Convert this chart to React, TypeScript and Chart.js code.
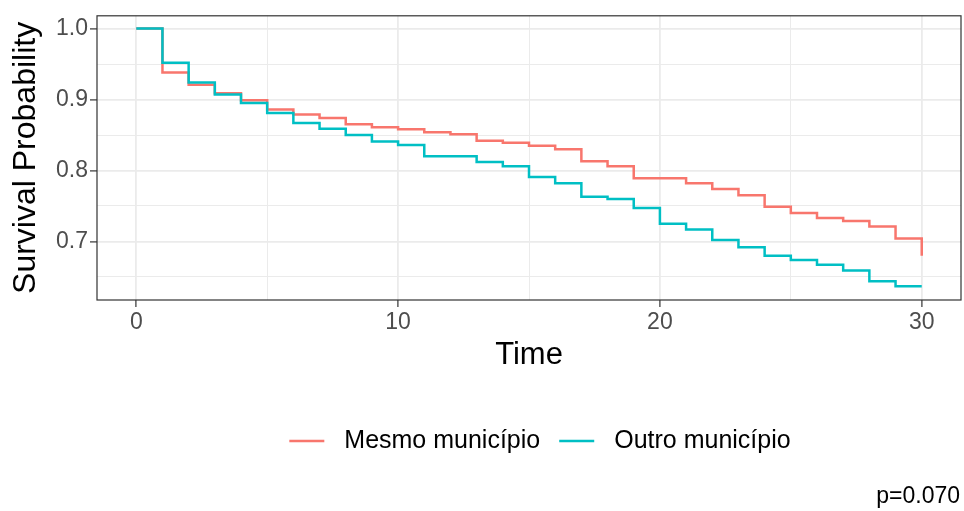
import React, { useEffect, useRef } from 'react';
import { Chart, registerables } from 'chart.js';

Chart.register(...registerables);

// ---- data ----
const times = [0, 1, 2, 3, 4, 5, 6, 7, 8, 9, 10, 11, 12, 13, 14, 15, 16, 17, 18, 19, 20, 21, 22, 23, 24, 25, 26, 27, 28, 29, 30];
const mesmoMunicipio = [1.0, 0.938, 0.921, 0.909, 0.899, 0.886, 0.879, 0.874, 0.865, 0.861, 0.858, 0.854, 0.851, 0.842, 0.839, 0.835, 0.83, 0.813, 0.806, 0.789, 0.789, 0.782, 0.774, 0.765, 0.749, 0.74, 0.733, 0.729, 0.721, 0.704, 0.68];
const outroMunicipio = [1.0, 0.952, 0.924, 0.907, 0.895, 0.881, 0.867, 0.859, 0.85, 0.841, 0.836, 0.82, 0.82, 0.812, 0.806, 0.791, 0.782, 0.763, 0.76, 0.747, 0.725, 0.717, 0.702, 0.692, 0.68, 0.674, 0.667, 0.659, 0.644, 0.637, 0.637];
const seriesNames = ['Mesmo município', 'Outro município'];
const seriesColors = ['#F8766D', '#00BFC4'];
const xTicks = [0, 5, 10, 15, 20, 25, 30];
const xLabels = [0, 10, 20, 30];
const yTicks = [0.65, 0.7, 0.75, 0.8, 0.85, 0.9, 0.95, 1.0];
const yLabels = [0.7, 0.8, 0.9, 1.0];
const xTitle = 'Time';
const yTitle = 'Survival Probability';
const pValueText = 'p=0.070';

const FONT = '"Liberation Sans", Arial, Helvetica, sans-serif';
const GRID = '#EBEBEB';
const DARK = '#333333';

const isIn = (arr: number[], v: number) => arr.some((a) => Math.abs(a - v) < 1e-9);

const ggPlugin = {
  id: 'ggDecor',
  afterDatasetsDraw(chart: any) {
    const { ctx, chartArea } = chart;
    ctx.save();
    ctx.strokeStyle = DARK;
    ctx.lineWidth = 1.2;
    ctx.strokeRect(chartArea.left, chartArea.top, chartArea.right - chartArea.left, chartArea.bottom - chartArea.top);
    ctx.restore();
  },
  afterDraw(chart: any) {
    const ctx = chart.ctx;
    ctx.save();
    ctx.font = `25px ${FONT}`;
    ctx.textBaseline = 'middle';
    const lineLen = 35;
    const gapText = 20;
    const gapItem = 19;
    const y = 441;
    const widths = chart.data.datasets.map((ds: any) => ctx.measureText(ds.label).width);
    let total = 0;
    widths.forEach((w: number, i: number) => {
      total += lineLen + gapText + w + (i < widths.length - 1 ? gapItem : 0);
    });
    let x = 540 - total / 2;
    chart.data.datasets.forEach((ds: any, i: number) => {
      ctx.strokeStyle = ds.borderColor;
      ctx.lineWidth = 2.4;
      ctx.beginPath();
      ctx.moveTo(x, y);
      ctx.lineTo(x + lineLen, y);
      ctx.stroke();
      x += lineLen + gapText;
      ctx.fillStyle = '#000';
      ctx.textAlign = 'left';
      ctx.fillText(ds.label, x, y);
      x += widths[i] + gapItem;
    });
    ctx.font = `23px ${FONT}`;
    ctx.textAlign = 'right';
    ctx.fillStyle = '#000';
    ctx.fillText(pValueText, 960, 497);
    ctx.restore();
  },
};

export default function App() {
  const canvasRef = useRef<HTMLCanvasElement | null>(null);

  useEffect(() => {
    document.body.style.margin = '0';
    const canvas = canvasRef.current;
    if (!canvas) return;
    const chart = new Chart(canvas, {
      type: 'line',
      data: {
        datasets: [
          {
            label: seriesNames[0],
            data: times.map((t, i) => ({ x: t, y: mesmoMunicipio[i] })),
            borderColor: seriesColors[0],
            backgroundColor: seriesColors[0],
            borderWidth: 2.5,
            stepped: 'before',
            pointRadius: 0,
            fill: false,
            order: 1,
          },
          {
            label: seriesNames[1],
            data: times.map((t, i) => ({ x: t, y: outroMunicipio[i] })),
            borderColor: seriesColors[1],
            backgroundColor: seriesColors[1],
            borderWidth: 2.5,
            stepped: 'before',
            pointRadius: 0,
            fill: false,
            order: 0,
          },
        ],
      },
      options: {
        animation: false,
        responsive: false,
        layout: { padding: { top: 14, right: 3, left: 0, bottom: 137.4 } },
        plugins: {
          legend: { display: false },
          tooltip: { enabled: false },
        },
        scales: {
          x: {
            type: 'linear',
            min: -1.5,
            max: 31.5,
            afterBuildTicks: (scale: any) => {
              scale.ticks = xTicks.map((v) => ({ value: v }));
            },
            afterFit: (scale: any) => {
              scale.height = 73.6;
            },
            border: { display: false },
            grid: {
              color: GRID,
              lineWidth: (c: any) => (isIn(xLabels, c.tick?.value) ? 1.8 : 1),
              tickColor: (c: any) => (isIn(xLabels, c.tick?.value) ? DARK : 'rgba(0,0,0,0)'),
              tickWidth: 1.2,
              tickLength: 7,
              drawTicks: true,
            },
            ticks: {
              autoSkip: false,
              maxRotation: 0,
              padding: 2,
              color: '#4D4D4D',
              font: { family: FONT, size: 23 },
              callback: (v: any) => (isIn(xLabels, Number(v)) ? String(v) : ''),
            },
            title: {
              display: true,
              text: xTitle,
              color: '#000',
              font: { family: FONT, size: 31 },
              padding: { top: 0, bottom: 0 },
            },
          },
          y: {
            type: 'linear',
            min: 0.6175,
            max: 1.018,
            afterBuildTicks: (scale: any) => {
              scale.ticks = yTicks.map((v) => ({ value: v }));
            },
            afterFit: (scale: any) => {
              scale.width = 97;
            },
            border: { display: false },
            grid: {
              color: GRID,
              lineWidth: (c: any) => (isIn(yLabels, c.tick?.value) ? 1.8 : 1),
              tickColor: (c: any) => (isIn(yLabels, c.tick?.value) ? DARK : 'rgba(0,0,0,0)'),
              tickWidth: 1.2,
              tickLength: 7,
              drawTicks: true,
            },
            ticks: {
              autoSkip: false,
              padding: 2,
              color: '#4D4D4D',
              font: { family: FONT, size: 23 },
              callback: (v: any) => (isIn(yLabels, Number(v)) ? Number(v).toFixed(1) : ''),
            },
            title: {
              display: true,
              text: yTitle,
              color: '#000',
              font: { family: FONT, size: 32 },
              padding: { top: 7, bottom: 0 },
            },
          },
        },
      },
      plugins: [ggPlugin],
    });
    return () => chart.destroy();
  }, []);

  return (
    <div style={{ width: 964, height: 511 }}>
      <canvas ref={canvasRef} width={964} height={511} style={{ width: 964, height: 511, display: 'block' }} />
    </div>
  );
}
